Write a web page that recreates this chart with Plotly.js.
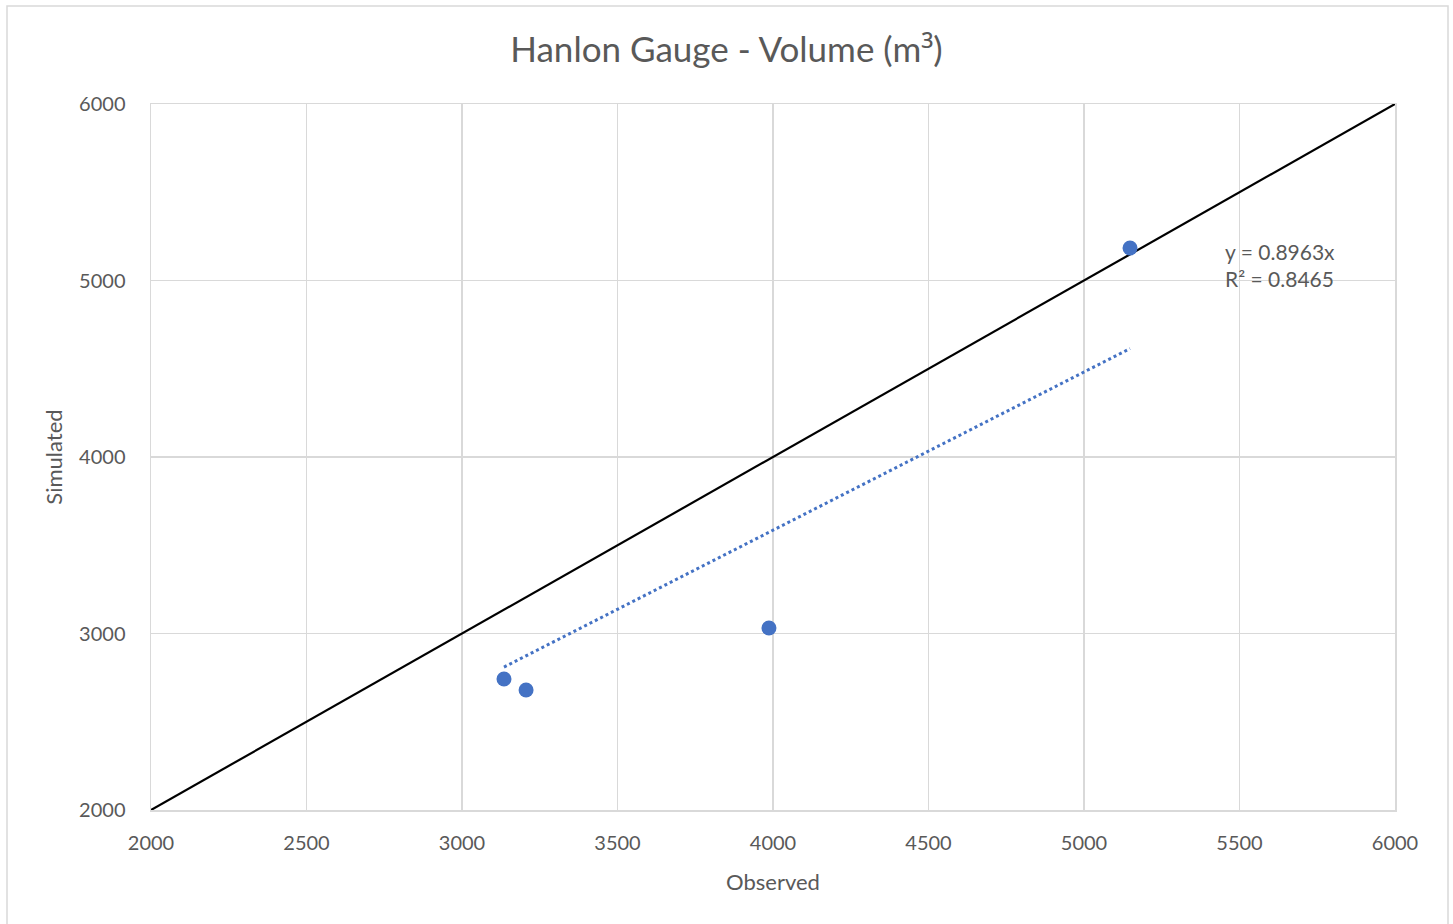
<!DOCTYPE html>
<html>
<head>
<meta charset="utf-8">
<script src="https://cdn.plot.ly/plotly-3.0.1.min.js"></script>
<style>
html,body{margin:0;padding:0;background:#fff;}
#chart{width:1453px;height:924px;}
</style>
</head>
<body>
<div id="chart"></div>
<script>
// Data
const observed = [3135, 3206, 3987, 5148];
const simulated = [2742, 2680, 3031, 5184];
const trendSlope = 0.8963;
const trendR2 = 0.8465;
const identityLine = [2000, 6000];
const tickValues = [2000, 2500, 3000, 3500, 4000, 4500, 5000, 5500, 6000];
const yTickValues = [2000, 3000, 4000, 5000, 6000];

const xMin = Math.min(...observed), xMax = Math.max(...observed);
const trendX = [xMin, xMax];
const trendY = trendX.map(v => v * trendSlope);

const FONT = 'Lato, "Open Sans", sans-serif';
const GREY = '#595959';
const GRID = '#d9d9d9';

const L = 151, R = 58, T = 104, B = 114;
const W = 1453 - L - R, H = 924 - T - B;

const traces = [
  {x: identityLine, y: identityLine, mode: 'lines', type: 'scatter',
   line: {color: '#000000', width: 2.2}, hoverinfo: 'skip', showlegend: false},
  {x: trendX, y: trendY, mode: 'lines', type: 'scatter',
   line: {color: '#4472c4', width: 3, dash: 'dot'}, showlegend: false},
  {x: observed, y: simulated, mode: 'markers', type: 'scatter',
   marker: {color: '#4472c4', size: 15}, showlegend: false}
];

const layout = {
  width: 1453, height: 924,
  margin: {l: L, r: R, t: T, b: B},
  paper_bgcolor: '#ffffff', plot_bgcolor: '#ffffff',
  font: {family: FONT, color: GREY, size: 20},
  title: {text: 'Hanlon Gauge - Volume (m<span style="font-family:\'Open Sans\'">³</span>)', font: {family: FONT, size: 35, color: GREY},
          x: 0.5, xanchor: 'center', y: 1 - 50/924, yanchor: 'middle'},
  xaxis: {range: [2000, 6000], tickvals: tickValues, ticks: '', showgrid: true,
          gridcolor: GRID, gridwidth: 1.5, zeroline: false, showline: true, mirror: true,
          linecolor: GRID, linewidth: 1.5, ticklabelstandoff: 14,
          tickfont: {family: FONT, size: 20, color: GREY},
          title: {text: 'Observed', font: {family: FONT, size: 22, color: GREY}, standoff: 22}},
  yaxis: {range: [2000, 6000], tickvals: yTickValues, ticks: '', showgrid: true,
          gridcolor: GRID, gridwidth: 1.5, zeroline: false, showline: true, mirror: true,
          linecolor: GRID, linewidth: 1.5, ticklabelstandoff: 20,
          tickfont: {family: FONT, size: 20, color: GREY},
          title: {text: 'Simulated', font: {family: FONT, size: 22, color: GREY}, standoff: 10}},
  annotations: [{
    xref: 'x', yref: 'y', x: 5448, y: 5090, xanchor: 'left', yanchor: 'middle',
    text: 'y = ' + trendSlope.toFixed(4) + 'x<br>R² = ' + trendR2.toFixed(4),
    showarrow: false, align: 'left', font: {family: FONT, size: 21, color: GREY}
  }],
  shapes: [{
    type: 'rect', xref: 'paper', yref: 'paper',
    x0: (7 - L) / W, x1: (1448 - L) / W,
    y0: (810 - 930) / H, y1: (810 - 6) / H,
    line: {color: GRID, width: 1.5}, fillcolor: 'rgba(0,0,0,0)', layer: 'below'
  }]
};

Plotly.newPlot('chart', traces, layout, {displayModeBar: false, staticPlot: true});
</script>
</body>
</html>
